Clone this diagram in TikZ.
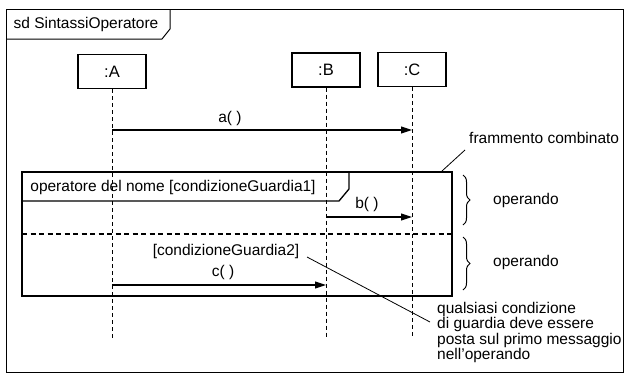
\documentclass[tikz,border=0pt]{standalone}
\usepackage{fontspec}
\setmainfont{Liberation Sans}
\usetikzlibrary{arrows.meta,decorations.pathreplacing}
\begin{document}
\begin{tikzpicture}[x=1pt,y=-1pt,
  every node/.style={font=\fontsize{15.5}{14}\selectfont, inner sep=0pt},
  obj/.style={draw, line width=1.1pt, minimum width=68pt, minimum height=34pt, font=\fontsize{16.5}{14}\selectfont},
  lifeline/.style={dash pattern=on 4pt off 3pt, line width=0.9pt},
  msg/.style={line width=1.1pt, -{Triangle[length=11pt,width=7pt]}},
  sep/.style={dash pattern=on 5pt off 3.5pt, line width=1.1pt},
  thin/.style={line width=0.8pt},
  bracestyle/.style={decorate, decoration={brace, amplitude=7pt}, line width=1pt}
]
\useasboundingbox (0,0) rectangle (627,381);
% outer frame
\node[draw, line width=1pt, minimum width=617pt, minimum height=363pt] (frame) at (314.5,190.5) {};
\draw[line width=1pt] (6,39) -- (162,39) -- (170,29) -- (170,9);
\node (title) at (86,24) {sd SintassiOperatore};
% objects
\node[obj] (A) at (112,71.5) {:A};
\node[obj] (B) at (326,70) {:B};
\node[obj] (C) at (412,69.5) {:C};
\coordinate (Ae) at (112,338);
\coordinate (Be) at (326,338);
\coordinate (Ce) at (412,338);
\draw[lifeline] (A.south) -- (Ae);
\draw[lifeline] (B.south) -- (Be);
\draw[lifeline] (C.south) -- (Ce);
% message a
\coordinate (a1) at (112,130);
\coordinate (a2) at (412,130);
\draw[msg] (a1) -- (a2);
\node (la) at (230,118) {a( )};
% combined fragment
\node[draw, line width=1.6pt, minimum width=430pt, minimum height=124pt] (frag) at (237,234) {};
\draw[line width=1.3pt] (22,201) -- (339,201) -- (349,189) -- (349,172);
\node (op) at (173,187) {operatore del nome [condizioneGuardia1]};
% message b
\coordinate (b1) at (326,217);
\coordinate (b2) at (412,217);
\draw[msg] (b1) -- (b2);
\node (lb) at (367,204) {b( )};
% separator
\coordinate (s1) at (22,234);
\coordinate (s2) at (452,234);
\draw[sep] (s1) -- (s2);
% guard 2 and message c
\node (g2) at (226,251) {[condizioneGuardia2]};
\node (lc) at (223,272) {c( )};
\coordinate (c1) at (112,285);
\coordinate (c2) at (326,285);
\draw[msg] (c1) -- (c2);
% note
\coordinate (n1) at (307,257);
\coordinate (n2) at (430,322);
\draw[thin] (n1) -- (n2);
\node[anchor=north west, align=left] (note) at (437,302) {qualsiasi condizione\\di guardia deve essere\\posta sul primo messaggio\\nell'operando};
% frammento combinato
\node[anchor=west] (fc) at (469,138) {frammento combinato};
\coordinate (f1) at (442,171);
\coordinate (f2) at (465,150);
\draw[thin] (f1) -- (f2);
% braces
\draw[bracestyle] (463,175) -- (463,225);
\draw[bracestyle] (463,237) -- (463,290);
\node[anchor=west] (op1) at (493,200) {operando};
\node[anchor=west] (op2) at (493,262) {operando};
\end{tikzpicture}
\end{document}
